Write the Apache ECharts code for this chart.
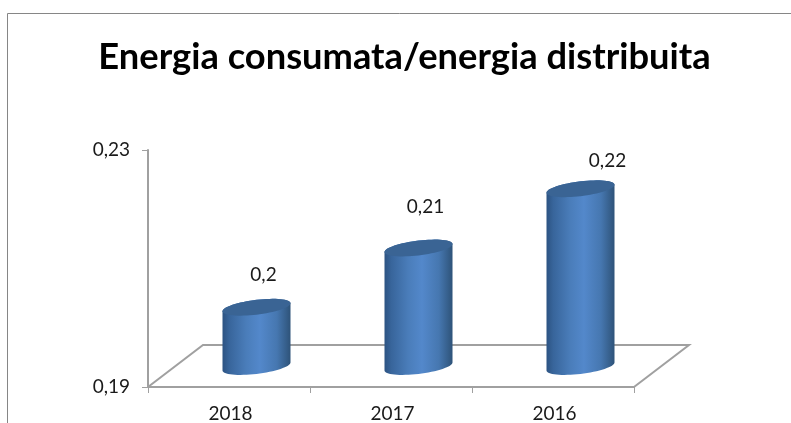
<!DOCTYPE html>
<html>
<head>
<meta charset="utf-8">
<style>
  html, body { margin: 0; padding: 0; background: #fff; }
  #chart { width: 791px; height: 423px; }
</style>
<script src="https://cdn.jsdelivr.net/npm/echarts@6/dist/echarts.min.js"></script>
</head>
<body>
<div id="chart"></div>
<script>
const titleText = 'Energia consumata/energia distribuita';
const years = ['2018', '2017', '2016'];
const ratios = [0.2, 0.21, 0.22];
const yMin = 0.19;
const yMax = 0.23;
const yTicks = [0.19, 0.23];

const FONT = 'Lato';
const comma = (v) => String(v).replace('.', ',');

// fake 3D depth of the floor, in pixels
const DEPTH_X = 55;
const DEPTH_Y = 42;
const CYL_RX = 34;
const CYL_RY = 7.4;
const CYL_SHEAR = 4;
// data labels were moved by hand in the original
const LABEL_SHIFT = [[7, -32], [7, -41], [27, -27]];

const ellipsePoint = (cx, cy, t) => [
  cx + CYL_RX * Math.cos(t),
  cy + CYL_RY * Math.sin(t) - CYL_SHEAR * Math.cos(t)
];

const renderFloor = (params, api) => {
  const { x, y, width, height } = params.coordSys;
  const bottom = y + height;
  return {
    type: 'polyline',
    shape: {
      points: [
        [x, bottom],
        [x + DEPTH_X, bottom - DEPTH_Y],
        [x + width + DEPTH_X, bottom - DEPTH_Y],
        [x + width, bottom]
      ]
    },
    style: { fill: null, stroke: '#a0a0a0', lineWidth: 2 }
  };
};

const renderCylinder = (params, api) => {
  const idx = api.value(0);
  const top = api.coord([idx, api.value(1)]);
  const base = api.coord([idx, yMin]);
  const cx = top[0] + DEPTH_X / 2;
  const topY = top[1] - DEPTH_Y / 2 + 0.5;
  const baseY = base[1] - DEPTH_Y / 2 + 0.5;

  // outline: lower half of the base ellipse, then upper half of the top one
  const body = [];
  for (let i = 0; i <= 32; i++) {
    body.push(ellipsePoint(cx, baseY, Math.PI - (Math.PI * i) / 32 ));
  }
  for (let i = 0; i <= 32; i++) {
    body.push(ellipsePoint(cx, topY, -(Math.PI * i) / 32));
  }
  const cap = [];
  for (let i = 0; i < 64; i++) {
    cap.push(ellipsePoint(cx, topY, (Math.PI * i) / 32));
  }
  const shift = LABEL_SHIFT[params.dataIndex];

  return {
    type: 'group',
    children: [
      {
        type: 'polygon',
        shape: { points: body },
        style: {
          fill: new echarts.graphic.LinearGradient(0, 0, 1, 0, [
            { offset: 0, color: '#2c5382' },
            { offset: 0.1, color: '#38659b' },
            { offset: 0.35, color: '#4a7dba' },
            { offset: 0.55, color: '#5388cb' },
            { offset: 0.8, color: '#4677b0' },
            { offset: 1, color: '#2e5379' }
          ])
        }
      },
      {
        type: 'polygon',
        shape: { points: cap },
        style: { fill: '#3a6494' }
      },
      {
        type: 'text',
        x: cx + shift[0],
        y: top[1] - DEPTH_Y / 2 + shift[1],
        style: {
          text: comma(api.value(1)),
          align: 'center',
          verticalAlign: 'middle',
          fontFamily: FONT,
          fontSize: 19,
          fill: '#1a1a1a'
        }
      }
    ]
  };
};

const chart = echarts.init(document.getElementById('chart'), null, { renderer: 'canvas' });

chart.setOption({
  backgroundColor: '#fff',
  animation: false,
  title: {
    text: titleText,
    left: 399.5,
    top: 34,
    textAlign: 'center',
    textStyle: { fontFamily: FONT, fontSize: 36.3, fontWeight: 'bold', color: '#000' }
  },
  graphic: [
    {
      type: 'polyline',
      shape: { points: [[7.5, 423], [7.5, 13.5], [791, 13.5]] },
      style: { fill: null, stroke: '#868686', lineWidth: 1 },
      silent: true
    }
  ],
  grid: { left: 148, right: 157, top: 150, bottom: 36 },
  xAxis: {
    type: 'category',
    data: years,
    axisLine: { lineStyle: { color: '#a0a0a0', width: 2 } },
    axisTick: { show: true, length: 6, lineStyle: { color: '#a0a0a0', width: 1 } },
    axisLabel: { fontFamily: FONT, fontSize: 19, color: '#1a1a1a', margin: 17, padding: [0, 0, 0, 3] }
  },
  yAxis: {
    type: 'value',
    min: yMin,
    max: yMax,
    splitLine: { show: false },
    axisLine: { show: true, lineStyle: { color: '#a0a0a0', width: 2 } },
    axisTick: { show: true, length: 6, customValues: yTicks, lineStyle: { color: '#a0a0a0', width: 1 } },
    axisLabel: {
      customValues: yTicks,
      fontFamily: FONT,
      fontSize: 19,
      color: '#1a1a1a',
      margin: 18,
      padding: [3, 0, 0, 0],
      formatter: (v) => Number(v).toFixed(2).replace('.', ',')
    }
  },
  series: [
    {
      type: 'custom',
      z: 1,
      silent: true,
      data: [[0, yMin]],
      renderItem: renderFloor
    },
    {
      type: 'custom',
      z: 2,
      data: ratios.map((v, i) => [i, v]),
      encode: { x: 0, y: 1 },
      renderItem: renderCylinder
    }
  ]
});
</script>
</body>
</html>
